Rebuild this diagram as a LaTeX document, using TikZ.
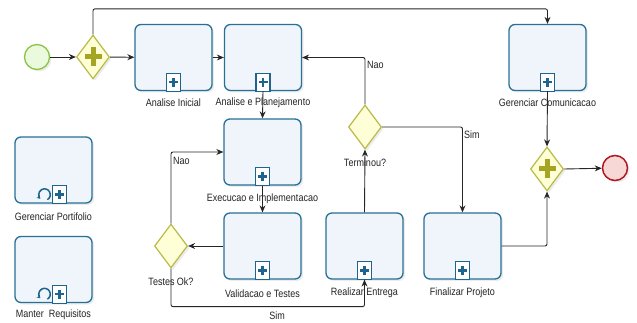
\documentclass[tikz,border=0pt]{standalone}
\usepackage{fontspec}
\usepackage{graphicx}
\setmainfont{Liberation Sans}
\usetikzlibrary{shapes.geometric,arrows.meta,shadows}
\definecolor{taskline}{RGB}{40,112,150}
\definecolor{taskfill}{RGB}{240,245,252}
\definecolor{gwline}{RGB}{185,185,70}
\definecolor{gwfill}{RGB}{255,255,215}
\definecolor{gwplus}{RGB}{165,165,35}
\definecolor{stline}{RGB}{140,195,70}
\definecolor{stfill}{RGB}{235,250,220}
\definecolor{enline}{RGB}{175,25,35}
\definecolor{enfill}{RGB}{248,215,215}
\definecolor{mkblue}{RGB}{30,100,140}
\definecolor{txt}{RGB}{35,35,35}
\newcommand\tallt[1]{\scalebox{1}[1.18]{#1}}
\begin{document}
\begin{tikzpicture}[x=1pt,y=-1pt,
  task/.style={draw=taskline,line width=1.3pt,fill=taskfill,rounded corners=6pt,
    minimum width=77pt,minimum height=66pt,inner sep=0pt,
    drop shadow={opacity=0.15,shadow xshift=2pt,shadow yshift=-2pt}},
  gw/.style={diamond,draw=gwline,line width=1.2pt,fill=gwfill,inner sep=0pt,
    minimum width=33pt,minimum height=44pt,shape aspect=0.75,
    drop shadow={opacity=0.15,shadow xshift=2pt,shadow yshift=-2pt}},
  lbl/.style={font=\fontsize{9}{10}\selectfont,text=txt,inner sep=1pt},
  flow/.style={draw=black!85,line width=0.9pt,rounded corners=2pt,-{Stealth[length=7pt,width=6pt]}},
  sub/.pic={\draw[draw=mkblue,line width=1.1pt,fill=white] (-7,0) rectangle (7,-18);
    \draw[mkblue,line width=2.6pt] (0,-4.5)--(0,-13.5) (-4.5,-9)--(4.5,-9);},
  loopm/.pic={\begin{scope}[shift={(0,-9)},yscale=-1]
    \draw[mkblue,line width=1.5pt,-{Stealth[length=3.5pt,width=4.5pt]}] (-60:5.8) arc (-60:225:5.8);
    \end{scope}},
  gplus/.pic={\draw[gwplus,line width=5pt] (0,-9.5)--(0,9.5) (-8.5,0)--(8.5,0);}
]
\useasboundingbox (0,0) rectangle (637,323);

% events
\node[circle,draw=stline,fill=stfill,line width=1.3pt,minimum size=25pt,inner sep=0pt,
  drop shadow={opacity=0.15,shadow xshift=2pt,shadow yshift=-2pt}] (start) at (37,57) {};
\node[circle,draw=enline,fill=enfill,line width=1.5pt,minimum size=25pt,inner sep=0pt,
  drop shadow={opacity=0.15,shadow xshift=2pt,shadow yshift=-2pt}] (end) at (615,168) {};

% gateways
\node[gw] (g1) at (93,57) {};
\pic at (g1.center) {gplus};
\node[gw] (g3) at (547,169) {};
\pic at (g3.center) {gplus};
\node[gw] (gt) at (171,246) {};
\node[gw] (tm) at (365,127) {};
\node[lbl] (gtl) at (171,282) {\tallt{Testes Ok?}};
\node[lbl] (tml) at (365,163) {\tallt{Terminou?}};

% tasks
\node[task] (ai) at (173.5,57.5) {};
\node[task] (ap) at (263,57.5) {};
\node[task] (gc) at (547.5,57.5) {};
\node[task] (ex) at (262.5,152) {};
\node[task] (va) at (262.5,246) {};
\node[task] (re) at (364.5,246) {};
\node[task] (fp) at (462.5,246) {};
\node[task] (gp) at (53.5,170) {};
\node[task] (mr) at (53.5,269.5) {};

\foreach \t in {ai,ap,gc,ex,va,re,fp} {\pic at (\t.south) {sub};}
\pic at ([xshift=6pt]gp.south) {sub};
\pic at ([xshift=-9pt]gp.south) {loopm};
\pic at ([xshift=6pt]mr.south) {sub};
\pic at ([xshift=-9pt]mr.south) {loopm};

% task labels
\node[lbl] (ail) at ([yshift=-12pt]ai.south) {\tallt{Analise Inicial}};
\node[lbl] (apl) at ([yshift=-12pt]ap.south) {\tallt{Analise e Planejamento}};
\node[lbl] (gcl) at ([yshift=-12pt]gc.south) {\tallt{Gerenciar Comunicacao}};
\node[lbl] (exl) at ([yshift=-13pt]ex.south) {\tallt{Execucao e Implementacao}};
\node[lbl] (val) at ([yshift=-14pt]va.south) {\tallt{Validacao e Testes}};
\node[lbl] (rel) at ([yshift=-13pt]re.south) {\tallt{Realizar Entrega}};
\node[lbl] (fpl) at ([yshift=-13pt]fp.south) {\tallt{Finalizar Projeto}};
\node[lbl] (gpl) at ([yshift=-13pt]gp.south) {\tallt{Gerenciar Portifolio}};
\node[lbl] (mrl) at ([yshift=-12pt]mr.south) {\tallt{Manter\ \ Requisitos}};

% flows
\draw[flow] (start) -- (g1);
\draw[flow] (g1) -- (ai);
\draw[flow] (ai) -- (ap);
\draw[flow] (g1.north) |- ([yshift=15pt]gc.north) -- (gc.north);
\draw[flow] (ap.south) -- (ex.north);
\draw[flow] (ex.south) -- (va.north);
\draw[flow] (va.west) -- (gt.east);
\draw[flow] (gt.north) |- (ex.west);
\draw[flow] (gt.south) |- ([yshift=-27pt]re.south) -- (re.south);
\draw[flow] (re.north) -- (tm.south);
\draw[flow] (tm.north) |- (ap.east);
\draw[flow] (tm.east) -| (fp.north);
\draw[flow] (fp.east) -| (g3.south);
\draw[flow] (gc.south) -- (g3.north);
\draw[flow] (g3.east) -- (end);

% flow labels
\node[lbl,anchor=west] (nao1) at (366,65) {\tallt{Nao}};
\node[lbl,anchor=west] (sim1) at (463,135) {\tallt{Sim}};
\node[lbl,anchor=west] (nao2) at (172,161) {\tallt{Nao}};
\node[lbl] (sim2) at (277,316) {\tallt{Sim}};
\end{tikzpicture}
\end{document}
